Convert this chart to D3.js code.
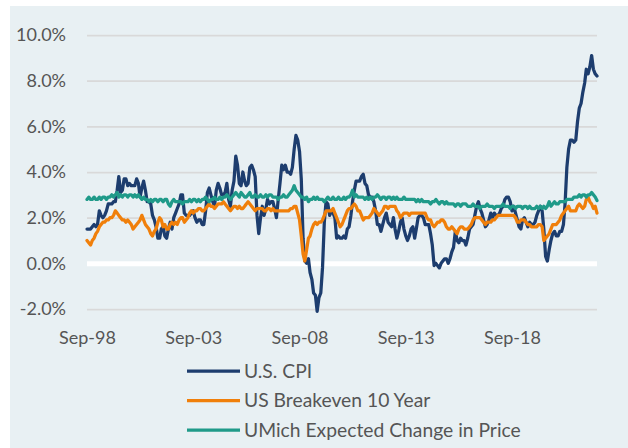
<!DOCTYPE html>
<html lang="en">
<head>
<meta charset="utf-8"/>
<title>Inflation measures</title>
<script src="https://d3js.org/d3.v7.min.js"></script>
<style>
  body { margin: 0; padding: 0; background: #ffffff; }
  #chart { width: 628px; height: 448px; }
  .tick text { font-family: Lato, 'Noto Sans', sans-serif; font-size: 18px; fill: #555555; }
  .legend text { font-family: Lato, 'Noto Sans', sans-serif; font-size: 19.3px; fill: #555555; }
</style>
</head>
<body>
<div id="chart"></div>
<script>
// monthly, Sep-1998 .. Sep-2022 (year-over-year %, 289 points)
const cpi = [
  1.5, 1.5, 1.5, 1.6,
  1.7, 1.6, 1.7, 2.3, 2.1, 2.0, 2.1, 2.3, 2.6, 2.6, 2.6, 2.7,
  2.7, 3.2, 3.8, 3.1, 3.2, 3.7, 3.7, 3.4, 3.5, 3.4, 3.4, 3.4,
  3.7, 3.5, 2.9, 3.3, 3.6, 3.2, 2.7, 2.7, 2.6, 2.1, 1.9, 1.6,
  1.1, 1.1, 1.5, 1.6, 1.2, 1.1, 1.5, 1.8, 1.5, 2.0, 2.2, 2.4,
  2.6, 3.0, 3.0, 2.2, 2.1, 2.1, 2.1, 2.2, 2.3, 2.0, 1.8, 1.9,
  1.9, 1.7, 1.7, 2.3, 3.1, 3.3, 3.0, 2.7, 2.5, 3.2, 3.5, 3.3,
  3.0, 3.0, 3.1, 3.5, 2.8, 2.5, 3.2, 3.6, 4.7, 4.3, 3.5, 3.4,
  4.0, 3.6, 3.4, 3.5, 4.2, 4.3, 4.1, 3.8, 2.1, 1.3, 2.0, 2.5,
  2.1, 2.4, 2.8, 2.6, 2.7, 2.7, 2.4, 2.0, 2.8, 3.5, 4.3, 4.1,
  4.3, 4.0, 4.0, 3.9, 4.2, 5.0, 5.6, 5.4, 4.9, 3.7, 1.1, 0.1,
  0.0, 0.2, -0.4, -0.7, -1.3, -1.4, -2.1, -1.5, -1.3, -0.2, 1.8, 2.7,
  2.6, 2.1, 2.3, 2.2, 2.0, 1.1, 1.2, 1.1, 1.1, 1.2, 1.1, 1.5,
  1.6, 2.1, 2.7, 3.2, 3.6, 3.6, 3.6, 3.8, 3.9, 3.5, 3.4, 3.0,
  2.9, 2.9, 2.7, 2.3, 1.7, 1.7, 1.4, 1.7, 2.0, 2.2, 1.8, 1.7,
  1.6, 2.0, 1.5, 1.1, 1.4, 1.8, 2.0, 1.5, 1.2, 1.0, 1.2, 1.5,
  1.6, 1.1, 1.5, 2.0, 2.1, 2.1, 2.0, 1.7, 1.7, 1.7, 1.3, 0.8,
  -0.1, 0.0, -0.1, -0.2, 0.0, 0.1, 0.2, 0.2, 0.0, 0.2, 0.5, 0.7,
  1.4, 1.0, 0.9, 1.1, 1.0, 1.0, 0.8, 1.1, 1.5, 1.6, 1.7, 2.1,
  2.5, 2.7, 2.4, 2.2, 1.9, 1.6, 1.7, 1.9, 2.2, 2.0, 2.2, 2.1,
  2.1, 2.2, 2.4, 2.5, 2.8, 2.9, 2.9, 2.7, 2.3, 2.5, 2.2, 1.9,
  1.6, 1.5, 1.9, 2.0, 1.8, 1.6, 1.8, 1.7, 1.7, 1.8, 2.1, 2.3,
  2.5, 2.3, 1.5, 0.3, 0.1, 0.6, 1.0, 1.3, 1.4, 1.2, 1.2, 1.4,
  1.4, 1.7, 2.6, 4.2, 5.0, 5.4, 5.4, 5.3, 5.4, 6.2, 6.8, 7.0,
  7.5, 7.9, 8.5, 8.3, 8.6, 9.1, 8.5, 8.3, 8.2
];
const breakeven10y = [
  1.0, 0.9, 0.8, 1.0,
  1.1, 1.3, 1.4, 1.6, 1.7, 1.8, 1.8, 1.9, 1.9, 2.0, 2.0, 2.1,
  2.3, 2.2, 2.1, 2.0, 1.9, 1.9, 1.8, 1.9, 1.8, 1.7, 1.5, 1.6,
  1.7, 1.8, 1.9, 2.1, 1.9, 1.7, 1.6, 1.5, 1.3, 1.2, 1.4, 1.5,
  1.8, 2.0, 1.9, 1.6, 1.7, 1.5, 1.5, 1.7, 1.8, 1.7, 1.8, 1.7,
  1.9, 2.0, 2.0, 1.8, 1.9, 2.0, 2.2, 2.3, 2.2, 2.3, 2.3, 2.4,
  2.4, 2.3, 2.3, 2.4, 2.5, 2.6, 2.5, 2.5, 2.4, 2.5, 2.6, 2.6,
  2.6, 2.7, 2.6, 2.5, 2.4, 2.3, 2.4, 2.5, 2.5, 2.4, 2.5, 2.4,
  2.4, 2.5, 2.6, 2.7, 2.6, 2.5, 2.4, 2.3, 2.4, 2.4, 2.4, 2.4,
  2.3, 2.3, 2.4, 2.4, 2.3, 2.4, 2.3, 2.3, 2.3, 2.3, 2.3, 2.3,
  2.3, 2.3, 2.3, 2.4, 2.4, 2.5, 2.5, 2.2, 1.9, 1.2, 0.4, 0.1,
  0.6, 1.1, 1.2, 1.5, 1.7, 1.8, 1.7, 1.8, 1.8, 1.9, 2.1, 2.3,
  2.3, 2.3, 2.3, 2.4, 2.2, 2.0, 1.8, 1.6, 1.7, 1.9, 2.1, 2.3,
  2.4, 2.4, 2.5, 2.6, 2.5, 2.3, 2.3, 2.1, 1.9, 2.0, 2.0, 2.0,
  2.1, 2.2, 2.4, 2.3, 2.2, 2.1, 2.2, 2.3, 2.5, 2.5, 2.4, 2.5,
  2.5, 2.5, 2.5, 2.3, 2.2, 2.0, 2.1, 2.2, 2.2, 2.2, 2.1, 2.2,
  2.2, 2.2, 2.2, 2.2, 2.2, 2.2, 2.2, 2.2, 2.0, 1.9, 1.9, 1.7,
  1.6, 1.7, 1.8, 1.8, 1.9, 1.9, 1.8, 1.6, 1.5, 1.5, 1.6, 1.5,
  1.4, 1.3, 1.5, 1.6, 1.6, 1.5, 1.5, 1.5, 1.6, 1.7, 1.9, 2.0,
  2.0, 2.0, 2.0, 1.9, 1.8, 1.7, 1.8, 1.8, 1.8, 1.9, 1.9, 2.0,
  2.1, 2.1, 2.1, 2.1, 2.1, 2.1, 2.1, 2.1, 2.1, 2.1, 2.0, 1.8,
  1.8, 1.9, 1.9, 1.9, 1.8, 1.7, 1.7, 1.6, 1.6, 1.6, 1.6, 1.7,
  1.7, 1.6, 1.0, 1.1, 1.2, 1.3, 1.5, 1.7, 1.7, 1.7, 1.8, 1.9,
  2.1, 2.2, 2.3, 2.4, 2.5, 2.3, 2.3, 2.3, 2.3, 2.5, 2.6, 2.5,
  2.4, 2.5, 2.8, 2.9, 2.7, 2.6, 2.4, 2.5, 2.2
];
const umichExpected = [
  2.8, 2.9, 2.8, 2.8,
  2.9, 2.8, 2.8, 2.9, 2.8, 2.9, 2.9, 2.8, 2.9, 2.9, 3.0, 2.9,
  3.0, 3.1, 2.9, 3.0, 2.9, 3.0, 3.0, 2.9, 3.0, 3.0, 2.9, 3.0,
  2.9, 3.0, 2.9, 2.8, 2.9, 2.8, 2.8, 2.7, 2.8, 2.7, 2.8, 2.8,
  2.7, 2.8, 2.8, 2.7, 2.8, 2.8, 2.6, 2.5, 2.7, 2.8, 2.7, 2.7,
  2.7, 2.7, 2.6, 2.7, 2.7, 2.7, 2.8, 2.7, 2.8, 2.8, 2.7, 2.8,
  2.7, 2.8, 2.8, 2.9, 2.8, 2.7, 2.8, 2.8, 2.9, 2.8, 2.8, 2.9,
  2.8, 2.9, 2.9, 3.0, 2.9, 2.8, 2.9, 3.0, 3.1, 3.0, 2.9, 3.1,
  3.0, 2.9, 2.9, 3.0, 3.1, 2.9, 2.9, 3.0, 2.9, 2.9, 3.0, 2.9,
  2.9, 3.0, 2.9, 3.0, 3.0, 2.9, 2.9, 2.9, 2.8, 2.9, 2.9, 3.0,
  2.9, 2.9, 3.0, 3.1, 3.2, 3.4, 3.2, 3.1, 3.0, 2.9, 2.9, 2.8,
  2.9, 2.7, 2.8, 2.8, 2.9, 2.8, 2.9, 2.8, 2.8, 2.8, 2.7, 2.8,
  2.9, 2.8, 2.8, 2.9, 2.8, 2.8, 2.9, 2.8, 2.8, 2.9, 2.8, 2.9,
  2.9, 3.0, 3.2, 2.9, 3.0, 2.9, 2.9, 2.9, 2.9, 2.8, 2.9, 2.8,
  2.9, 2.8, 2.9, 2.9, 3.0, 2.9, 2.8, 2.9, 2.9, 2.8, 2.9, 2.9,
  2.8, 2.9, 2.8, 2.9, 2.8, 2.8, 2.8, 2.9, 2.8, 2.8, 2.8, 2.8,
  2.8, 2.8, 2.7, 2.8, 2.7, 2.8, 2.7, 2.7, 2.7, 2.7, 2.6, 2.7,
  2.7, 2.8, 2.7, 2.6, 2.7, 2.7, 2.6, 2.7, 2.6, 2.6, 2.6, 2.6,
  2.5, 2.6, 2.6, 2.5, 2.6, 2.6, 2.6, 2.5, 2.5, 2.5, 2.6, 2.5,
  2.5, 2.5, 2.4, 2.5, 2.5, 2.5, 2.6, 2.5, 2.5, 2.5, 2.4, 2.5,
  2.5, 2.5, 2.5, 2.6, 2.5, 2.5, 2.5, 2.4, 2.5, 2.5, 2.4, 2.5,
  2.5, 2.5, 2.4, 2.5, 2.5, 2.4, 2.5, 2.4, 2.4, 2.4, 2.5, 2.4,
  2.5, 2.4, 2.5, 2.4, 2.5, 2.7, 2.5, 2.6, 2.7, 2.6, 2.6, 2.7,
  2.7, 2.7, 2.7, 2.8, 2.8, 2.8, 2.8, 2.9, 2.9, 2.9, 3.0, 2.9,
  3.0, 3.0, 2.9, 3.0, 3.0, 3.1, 3.0, 2.9, 2.75
];
const seriesNames = ["U.S. CPI", "US Breakeven 10 Year", "UMich Expected Change in Price"];
const seriesColors = ["#1d3d6e", "#f07f0a", "#1f9a89"];
const xTickLabels = ["Sep-98", "Sep-03", "Sep-08", "Sep-13", "Sep-18"];
const yTicks = [-2, 0, 2, 4, 6, 8, 10];

const W = 628, H = 448;
const margin = {top: 35, right: 31, bottom: 139, left: 87};

const start = new Date(1998, 8, 1);
const dates = cpi.map((d, i) => d3.timeMonth.offset(start, i));
const tickDates = xTickLabels.map((t, i) => d3.timeMonth.offset(start, i * 60));

const x = d3.scaleTime()
  .domain([start, dates[dates.length - 1]])
  .range([margin.left, W - margin.right]);
const y = d3.scaleLinear()
  .domain([-2, 10])
  .range([H - margin.bottom, margin.top]);

const svg = d3.select("#chart").append("svg")
  .attr("width", W).attr("height", H);

// panel background
svg.append("rect")
  .attr("x", 10).attr("y", 6)
  .attr("width", W - 10).attr("height", H - 6)
  .attr("fill", "#e8f0f3");

// gridlines + y labels
const yAxis = svg.append("g")
  .attr("transform", `translate(${margin.left},0)`)
  .call(d3.axisLeft(y)
    .tickValues(yTicks)
    .tickSize(-(W - margin.right - margin.left))
    .tickPadding(21)
    .tickFormat(v => v.toFixed(1) + "%"));
yAxis.select(".domain").remove();
yAxis.selectAll(".tick line")
  .attr("stroke", d => d === 0 ? "#ffffff" : "#d9d9d9")
  .attr("stroke-width", d => d === 0 ? 5 : 1.75);

// x labels
const xAxis = svg.append("g")
  .attr("transform", `translate(0,${y(-2)})`)
  .call(d3.axisBottom(x)
    .tickValues(tickDates)
    .tickSize(0)
    .tickPadding(22)
    .tickFormat((d, i) => xTickLabels[i]));
xAxis.select(".domain").remove();

// lines
const allSeries = [cpi, breakeven10y, umichExpected];
const line = d3.line()
  .x((d, i) => x(dates[i]))
  .y(d => y(d));
allSeries.forEach((s, k) => {
  svg.append("path")
    .datum(s)
    .attr("fill", "none")
    .attr("stroke", seriesColors[k])
    .attr("stroke-width", 3.25)
    .attr("stroke-linejoin", "round")
    .attr("stroke-linecap", "round")
    .attr("d", line);
});

// legend
const legend = svg.append("g").attr("class", "legend");
seriesNames.forEach((name, k) => {
  const ly = 371 + k * 29.5;
  legend.append("line")
    .attr("x1", 187).attr("x2", 240)
    .attr("y1", ly).attr("y2", ly)
    .attr("stroke", seriesColors[k])
    .attr("stroke-width", 3.25);
  legend.append("text")
    .attr("x", 244).attr("y", ly)
    .attr("dy", "0.35em")
    .text(name);
});
</script>
</body>
</html>
